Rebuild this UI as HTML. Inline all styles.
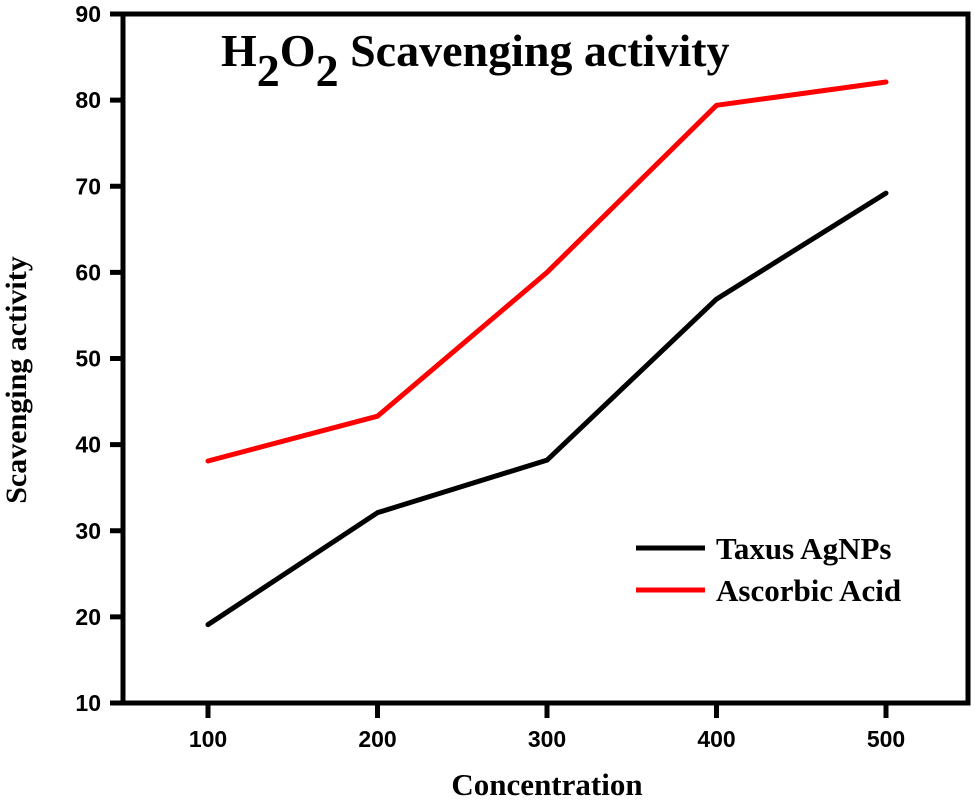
<!DOCTYPE html>
<html><head><meta charset="utf-8"><style>
body{margin:0;background:#fff;}
svg{display:block;font-family:"Liberation Sans",Arial,sans-serif;}
</style></head><body>
<svg id="chart" width="975" height="801" viewBox="0 0 975 801">
<rect x="123" y="14" width="845" height="689" fill="none" stroke="#000" stroke-width="5"/>
<text x="221" y="66" font-family="Liberation Serif,serif" font-weight="bold" font-size="46">H<tspan dy="20">2</tspan><tspan dy="-20">O</tspan><tspan dy="20">2</tspan><tspan dy="-20"> Scavenging activity</tspan></text>
<text x="547" y="795" text-anchor="middle" font-family="Liberation Serif,serif" font-weight="bold" font-size="31">Concentration</text>
<text transform="translate(26,380) rotate(-90)" text-anchor="middle" font-family="Liberation Serif,serif" font-weight="bold" font-size="30">Scavenging activity</text>
<g id="ticks"></g>
<g id="series"></g>
<g>
<line x1="636" y1="548" x2="705" y2="548" stroke="#000" stroke-width="5"/>
<text x="716" y="559" font-family="Liberation Serif,serif" font-weight="bold" font-size="31">Taxus AgNPs</text>
<line x1="636" y1="590" x2="705" y2="590" stroke="#f00" stroke-width="5"/>
<text x="716" y="601" font-family="Liberation Serif,serif" font-weight="bold" font-size="31">Ascorbic Acid</text>
</g>
</svg>
<script>
const categories=[100,200,300,400,500];
const taxusValues=[19.1,32.1,38.2,56.9,69.2];
const ascorbicValues=[38.1,43.3,60.0,79.4,82.1];
const yTicks=[10,20,30,40,50,60,70,80,90];
const NS="http://www.w3.org/2000/svg";
function xs(v){return 208+(v-100)*(886-208)/400;}
function ys(v){return 703-(v-10)*(703-14)/80;}
const tg=document.getElementById('ticks');
yTicks.forEach(t=>{
 const l=document.createElementNS(NS,'line');
 l.setAttribute('x1',110);l.setAttribute('x2',123);l.setAttribute('y1',ys(t));l.setAttribute('y2',ys(t));
 l.setAttribute('stroke','#000');l.setAttribute('stroke-width',5);
 
 
 tg.appendChild(l);
 const tx=document.createElementNS(NS,'text');
 tx.setAttribute('x',101);tx.setAttribute('y',ys(t)+8);tx.setAttribute('text-anchor','end');
 tx.setAttribute('font-weight','bold');tx.setAttribute('font-size','23');tx.textContent=t;
 
 
 tg.appendChild(tx);
});
categories.forEach(c=>{
 const l=document.createElementNS(NS,'line');
 l.setAttribute('x1',xs(c));l.setAttribute('x2',xs(c));l.setAttribute('y1',703);l.setAttribute('y2',718);
 l.setAttribute('stroke','#000');l.setAttribute('stroke-width',5);
 
 
 tg.appendChild(l);
 const tx=document.createElementNS(NS,'text');
 tx.setAttribute('x',xs(c));tx.setAttribute('y',747);tx.setAttribute('text-anchor','middle');
 tx.setAttribute('font-weight','bold');tx.setAttribute('font-size','23');tx.textContent=c;
 
 
 tg.appendChild(tx);
});
const sg=document.getElementById('series');
function line(vals,color,name){
 const p=document.createElementNS(NS,'polyline');
 p.setAttribute('points',vals.map((v,i)=>xs(categories[i])+','+ys(v)).join(' '));
 p.setAttribute('fill','none');p.setAttribute('stroke',color);p.setAttribute('stroke-width',5);
 p.setAttribute('stroke-linejoin','round');p.setAttribute('stroke-linecap','round');
 
 
 sg.appendChild(p);
}
line(ascorbicValues,'#f00','ascorbic-acid-line');
line(taxusValues,'#000','taxus-agnps-line');
</script>
</body></html>
